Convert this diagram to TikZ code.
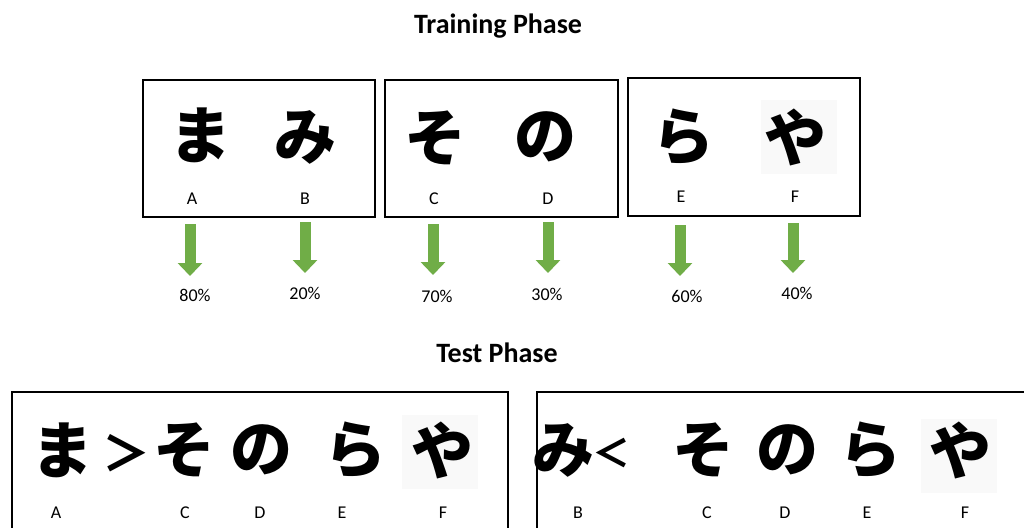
\documentclass[tikz,border=0pt]{standalone}
\usepackage{fontspec}
\setmainfont{Carlito}
\newfontfamily\kana{Noto Sans CJK JP}
\usetikzlibrary{arrows.meta}
\definecolor{arrowgreen}{HTML}{70AD47}
\begin{document}
\begin{tikzpicture}[x=1pt,y=-1pt,
  heading/.style={font=\bfseries\fontsize{28}{32}\selectfont, inner sep=0pt},
  panel/.style={draw=black, line width=1.3pt},
  kanachar/.style={font=\kana\bfseries\fontsize{62}{62}\selectfont, inner sep=0pt},
  relsign/.style={font=\kana\bfseries\fontsize{48}{48}\selectfont, inner sep=0pt},
  letter/.style={font=\fontsize{18}{20}\selectfont, inner sep=0pt},
  pct/.style={font=\fontsize{18}{20}\selectfont, inner sep=0pt},
  paper/.style={fill=black!2.5, minimum width=76pt, minimum height=74pt},
  downarrow/.style={draw=arrowgreen, line width=11pt, -{Triangle[width=24pt,length=13pt]}},
]
\useasboundingbox (0,0) rectangle (1024,527);
\clip (0,0) rectangle (1024,527);

% ---------- training phase ----------
\node[heading] (trainhead) at (498,26) {Training Phase};

\draw[panel] (143,80) rectangle (375,217);
\draw[panel] (385,80) rectangle (618,217);
\draw[panel] (628,78) rectangle (860,216);

\node[kanachar] (ma) at (200,135) {ま};
\node[kanachar] (mi) at (305,137) {み};
\node[kanachar] (so) at (435,138) {そ};
\node[kanachar] (no) at (545,137) {の};
\node[kanachar] (ra) at (683,137) {ら};
\node[paper] (yabg) at (799,137) {};
\node[kanachar] (ya) at (795,137) {や};

\node[letter] (lA) at (192,199) {A};
\node[letter] (lB) at (305,199) {B};
\node[letter] (lC) at (434,199) {C};
\node[letter] (lD) at (548,199) {D};
\node[letter] (lE) at (681,197) {E};
\node[letter] (lF) at (795,197) {F};

\coordinate (sA) at (190,224); \coordinate (tA) at (190,276);
\coordinate (sB) at (305,222); \coordinate (tB) at (305,273);
\coordinate (sC) at (433,224); \coordinate (tC) at (433,275);
\coordinate (sD) at (548,222); \coordinate (tD) at (548,273);
\coordinate (sE) at (680,225); \coordinate (tE) at (680,276);
\coordinate (sF) at (793,223); \coordinate (tF) at (793,273);
\foreach \k in {A,B,C,D,E,F}
  \draw[downarrow] (s\k) -- (t\k);

\node[pct] (pA) at (195,295) {80\%};
\node[pct] (pB) at (305,293) {20\%};
\node[pct] (pC) at (437,296) {70\%};
\node[pct] (pD) at (547,294) {30\%};
\node[pct] (pE) at (687,296) {60\%};
\node[pct] (pF) at (797,293) {40\%};

% ---------- test phase ----------
\node[heading] (testhead) at (497,353) {Test Phase};

\draw[panel] (12,392) rectangle (508,545);
\draw[panel] (537,392) rectangle (1040,545);

% first ordering
\node[kanachar] (ma2) at (62,450) {ま};
\node[relsign] (gt) at (126,453) {＞};
\node[kanachar] (so2) at (184,450) {そ};
\node[kanachar] (no2) at (261,450) {の};
\node[kanachar] (ra2) at (355,450) {ら};
\node[paper] (yabg2) at (440,452) {};
\node[kanachar] (ya2) at (442,450) {や};

\node[letter] (lA2) at (56,513) {A};
\node[letter] (lC2) at (185,513) {C};
\node[letter] (lD2) at (260,513) {D};
\node[letter] (lE2) at (342,513) {E};
\node[letter] (lF2) at (443,513) {F};

% second ordering
\node[kanachar] (mi3) at (563,450) {み};
\node[relsign, font=\kana\bfseries\fontsize{38}{38}\selectfont] (lt) at (611,453) {＜};
\node[kanachar] (so3) at (703,450) {そ};
\node[kanachar] (no3) at (787,450) {の};
\node[kanachar] (ra3) at (870,450) {ら};
\node[paper] (yabg3) at (959,456) {};
\node[kanachar] (ya3) at (960,450) {や};

\node[letter] (lB3) at (578,513) {B};
\node[letter] (lC3) at (707,513) {C};
\node[letter] (lD3) at (785,513) {D};
\node[letter] (lE3) at (867,513) {E};
\node[letter] (lF3) at (965,513) {F};
\end{tikzpicture}
\end{document}
